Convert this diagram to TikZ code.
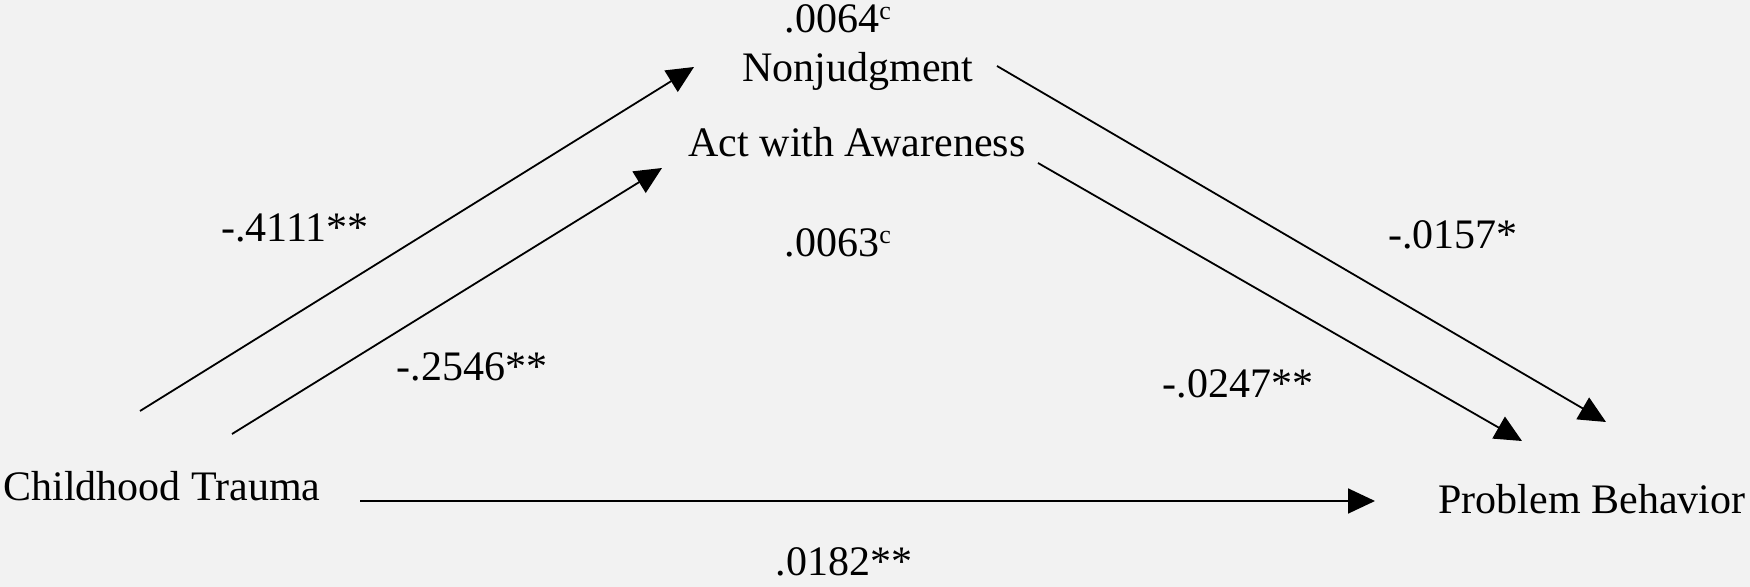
\documentclass[tikz,border=0pt]{standalone}
\usepackage{fontspec}
\setmainfont{Liberation Serif}
\usetikzlibrary{arrows.meta}
\definecolor{paper}{HTML}{F2F2F2}
\newcommand\supc{\raisebox{6.5pt}{\fontsize{13}{13}\selectfont c}}

\begin{document}
\begin{tikzpicture}[x=0.5pt,y=-0.5pt,
   font=\fontsize{21}{25}\selectfont,
   >={Triangle[length=13.5pt,width=12.5pt]},
   lbl/.style={inner sep=0pt,anchor=base},
   path/.style={->,line width=0.9pt}]
% Background (fixes the margins)
   \fill [paper] (0,0) rectangle (1750,587);
   \useasboundingbox (0,0) rectangle (1750,587);
% Variables
   \node [lbl] (trauma)  at (162,500)  {Childhood Trauma};
   \node [lbl] (problem) at (1592,513) {Problem Behavior};
   \node [lbl] (nonjudg) at (858,82)   {Nonjudgment};
   \node [lbl] (aware)   at (857,157)  {Act with Awareness};
% Ends of the connectors
   \coordinate (t1) at (140,411);
   \coordinate (t2) at (232,434);
   \coordinate (t3) at (360,501);
   \coordinate (n1) at (694,67);
   \coordinate (n2) at (997,66);
   \coordinate (a1) at (662,168);
   \coordinate (a2) at (1038,163);
   \coordinate (p1) at (1606,422);
   \coordinate (p2) at (1522,441);
   \coordinate (p3) at (1375,501);
% Paths
   \draw [path] (t1) -- (n1);
   \draw [path] (t2) -- (a1);
   \draw [path] (n2) -- (p1);
   \draw [path] (a2) -- (p2);
   \draw [path] (t3) -- (p3);
% Coefficients
   \node [lbl] (indnon) at (838,33)   {.0064\supc};
   \node [lbl] (indact) at (838,257)  {.0063\supc};
   \node [lbl] (tnon)   at (295,242)  {-.4111**};
   \node [lbl] (tact)   at (472,380)  {-.2546**};
   \node [lbl] (nonp)   at (1453,249) {-.0157*};
   \node [lbl] (actp)   at (1238,398) {-.0247**};
   \node [lbl] (direct) at (844,575)  {.0182**};
\end{tikzpicture}
\end{document}
